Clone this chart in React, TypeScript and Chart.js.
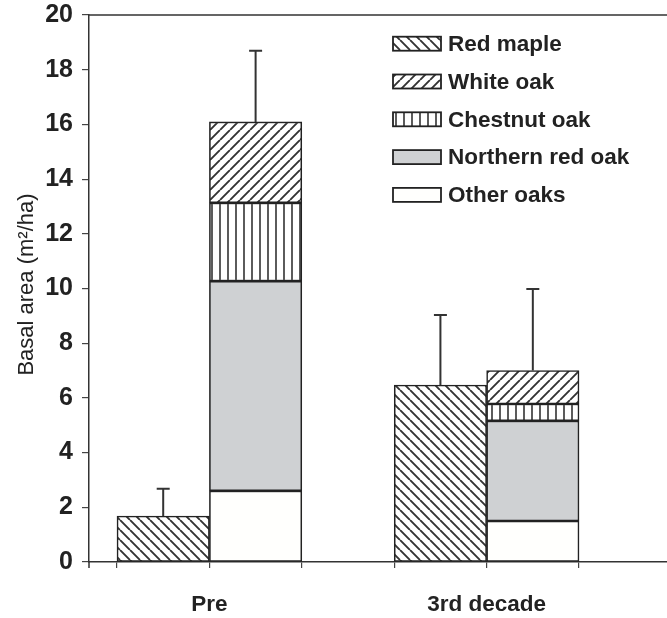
import React, { useEffect, useRef } from "react";
import { Chart, registerables } from "chart.js";

Chart.register(...registerables);

// ---- data ----
const categories = ["Pre", "3rd decade"];
const redMaple = [1.68, 6.47];
const otherOaks = [2.6, 1.5];
const northernRedOak = [7.67, 3.66];
const chestnutOak = [2.86, 0.62];
const whiteOak = [2.96, 1.22];
const redMapleError = [1.0, 2.56];
const oakError = [2.6, 2.98];
const legendLabels = ["Red maple", "White oak", "Chestnut oak", "Northern red oak", "Other oaks"];
const yAxisTitle = "Basal area (m\u00b2/ha)";

const FONT = "'Liberation Sans', Arial, Helvetica, sans-serif";
const INK = "#222222";
const GREY = "#cfd1d3";
const WHITE = "#fffffd";

type Kind = "back" | "fwd" | "vert";

function makePattern(kind: Kind): CanvasPattern | string {
  const s = kind === "vert" ? 8 : 10;
  const c = document.createElement("canvas");
  c.width = s;
  c.height = s;
  const g = c.getContext("2d");
  if (!g) return WHITE;
  g.fillStyle = "#ffffff";
  g.fillRect(0, 0, s, s);
  g.strokeStyle = "#333333";
  g.lineWidth = kind === "vert" ? 1.6 : 1.9;
  g.beginPath();
  if (kind === "vert") {
    g.moveTo(s / 2, 0);
    g.lineTo(s / 2, s);
  } else {
    for (let k = -1; k <= 1; k++) {
      if (kind === "back") {
        g.moveTo(k * s, 0);
        g.lineTo(k * s + s, s);
      } else {
        g.moveTo(k * s, s);
        g.lineTo(k * s + s, 0);
      }
    }
  }
  g.stroke();
  const p = g.createPattern(c, "repeat");
  return p || WHITE;
}

export default function App() {
  const ref = useRef<HTMLCanvasElement | null>(null);

  useEffect(() => {
    const canvas = ref.current;
    if (!canvas) return;

    const backHatch = makePattern("back");
    const fwdHatch = makePattern("fwd");
    const vertHatch = makePattern("vert");

    const mapleX = (i: number) => i * 3 + 0.5;
    const oakX = (i: number) => i * 3 + 1.5;

    const barCommon = {
      borderColor: INK,
      borderWidth: 1.6,
      borderSkipped: false as const,
      barPercentage: 1,
      categoryPercentage: 1,
    };

    const legendFills = [backHatch, fwdHatch, vertHatch, GREY, WHITE];

    const extras = {
      id: "extras",
      afterDatasetsDraw(chart: any) {
        const { ctx, scales } = chart;
        const x = scales.x;
        const y = scales.y;
        ctx.save();
        ctx.strokeStyle = "#333333";
        ctx.lineWidth = 2;
        const drawErr = (px: number, top: number, err: number) => {
          const y0 = y.getPixelForValue(top);
          const y1 = y.getPixelForValue(top + err);
          ctx.beginPath();
          ctx.moveTo(px, y0);
          ctx.lineTo(px, y1);
          ctx.moveTo(px - 6.5, y1);
          ctx.lineTo(px + 6.5, y1);
          ctx.stroke();
        };
        categories.forEach((_, i) => {
          drawErr(x.getPixelForValue(mapleX(i)), redMaple[i], redMapleError[i]);
          const total = otherOaks[i] + northernRedOak[i] + chestnutOak[i] + whiteOak[i];
          drawErr(x.getPixelForValue(oakX(i)), total, oakError[i]);
        });
        ctx.restore();
      },
      afterDraw(chart: any) {
        const { ctx, chartArea } = chart;
        ctx.save();
        // top frame line
        ctx.strokeStyle = "#333333";
        ctx.lineWidth = 1.5;
        ctx.beginPath();
        ctx.moveTo(chartArea.left, chartArea.top);
        ctx.lineTo(chartArea.right, chartArea.top);
        // y axis slight extension below x axis
        ctx.moveTo(chartArea.left, chartArea.bottom);
        ctx.lineTo(chartArea.left, chartArea.bottom + 6);
        ctx.stroke();

        // y axis title
        ctx.save();
        ctx.translate(27, (chartArea.top + chartArea.bottom) / 2 - 4);
        ctx.rotate(-Math.PI / 2);
        ctx.fillStyle = INK;
        ctx.font = `22px ${FONT}`;
        ctx.textAlign = "center";
        ctx.textBaseline = "middle";
        ctx.fillText(yAxisTitle, 0, 0);
        ctx.restore();

        // legend
        const bx = 393;
        const bw = 48;
        const bh = 14;
        legendLabels.forEach((label, i) => {
          const cy = 43.7 + i * 37.8;
          ctx.fillStyle = legendFills[i] as any;
          ctx.fillRect(bx, cy - bh / 2, bw, bh);
          ctx.strokeStyle = INK;
          ctx.lineWidth = 1.8;
          ctx.strokeRect(bx, cy - bh / 2, bw, bh);
          ctx.fillStyle = INK;
          ctx.font = `bold 22.5px ${FONT}`;
          ctx.textAlign = "left";
          ctx.textBaseline = "middle";
          ctx.fillText(label, bx + bw + 7, cy + 1);
        });
        ctx.restore();
      },
    };

    const chart = new Chart(canvas, {
      type: "bar",
      data: {
        datasets: [
          {
            label: "Red maple",
            data: redMaple.map((v, i) => ({ x: mapleX(i), y: v })),
            backgroundColor: backHatch as any,
            ...barCommon,
          },
          {
            label: "Other oaks",
            data: otherOaks.map((v, i) => ({ x: oakX(i), y: v })),
            backgroundColor: WHITE,
            ...barCommon,
          },
          {
            label: "Northern red oak",
            data: northernRedOak.map((v, i) => ({ x: oakX(i), y: v })),
            backgroundColor: GREY,
            ...barCommon,
          },
          {
            label: "Chestnut oak",
            data: chestnutOak.map((v, i) => ({ x: oakX(i), y: v })),
            backgroundColor: vertHatch as any,
            ...barCommon,
          },
          {
            label: "White oak",
            data: whiteOak.map((v, i) => ({ x: oakX(i), y: v })),
            backgroundColor: fwdHatch as any,
            ...barCommon,
          },
        ] as any,
      },
      options: {
        responsive: false,
        animation: false,
        events: [],
        layout: { padding: { top: 15, right: 0, bottom: 0, left: 0 } },
        plugins: {
          legend: { display: false },
          tooltip: { enabled: false },
          title: { display: false },
        },
        scales: {
          x: {
            type: "linear",
            stacked: true,
            min: -0.303,
            max: 5.952,
            offset: false,
            afterBuildTicks: (scale: any) => {
              scale.ticks = [0, 1, 2, 3, 4, 5].map((v) => ({ value: v }));
            },
            afterFit: (scale: any) => {
              scale.height = 56;
              scale.paddingLeft = 0;
              scale.paddingRight = 0;
            },
            ticks: {
              autoSkip: false,
              maxRotation: 0,
              minRotation: 0,
              padding: 23,
              color: INK,
              font: { family: FONT, size: 22.5, weight: "bold" },
              callback: (value: any) => {
                const v = Number(value);
                return v % 3 === 1 ? categories[(v - 1) / 3] : "";
              },
            },
            grid: {
              display: true,
              offset: false,
              drawOnChartArea: false,
              drawTicks: true,
              tickLength: 6,
              color: "#444444",
              lineWidth: 1.2,
            },
            border: { display: true, color: "#333333", width: 1.5 },
          },
          y: {
            type: "linear",
            stacked: true,
            min: 0,
            max: 20,
            afterFit: (scale: any) => {
              scale.width = 89;
              scale.paddingTop = 0;
              scale.paddingBottom = 0;
            },
            ticks: {
              stepSize: 2,
              padding: 9,
              color: INK,
              font: { family: FONT, size: 25, weight: "bold" },
            },
            grid: {
              display: true,
              drawOnChartArea: false,
              drawTicks: true,
              tickLength: 7,
              color: "#444444",
              lineWidth: 1.2,
            },
            border: { display: true, color: "#333333", width: 1.5 },
          },
        },
      } as any,
      plugins: [extras],
    });

    return () => {
      chart.destroy();
    };
  }, []);

  return (
    <div style={{ position: "absolute", left: 0, top: 0, width: 667, height: 618, background: "#ffffff" }}>
      <canvas ref={ref} width={667} height={618} style={{ display: "block" }} />
    </div>
  );
}
